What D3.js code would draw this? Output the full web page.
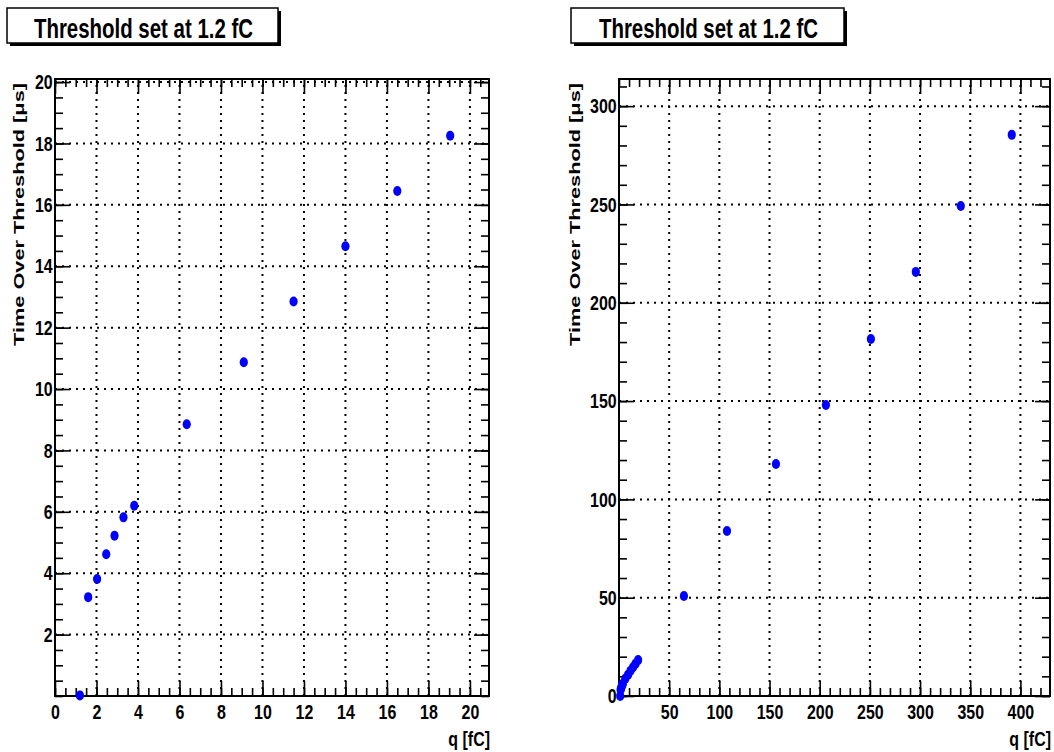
<!DOCTYPE html>
<html>
<head>
<meta charset="utf-8">
<script src="https://cdn.jsdelivr.net/npm/d3@7"></script>
<style>
  body { margin: 0; background: #fff; }
  svg { display: block; }
</style>
</head>
<body>
<svg width="1054" height="752"></svg>
<script>
// low-charge scan (fC, us)
const lowQ = [1.2, 1.6, 2.03, 2.47, 2.87, 3.3, 3.82, 6.35, 9.1, 11.5, 14.0, 16.5, 19.05];
const lowTot = [0.02, 3.22, 3.81, 4.62, 5.22, 5.82, 6.2, 8.85, 10.87, 12.85, 14.65, 16.45, 18.25];
// high-charge scan
const highQ = [64.7, 107.6, 156.4, 206.2, 251, 295.8, 340.6, 391.4];
const highTot = [50.9, 83.9, 118, 148, 181.6, 215.7, 249.2, 285.4];

const titleText = "Threshold set at 1.2 fC";
const xTitle = "q [fC]";
const yTitle = "Time Over Threshold [\u03bcs]";

const leftXTicks = d3.range(0, 21, 2);
const leftYTicks = d3.range(2, 21, 2);
const rightXTicks = d3.range(50, 401, 50);
const rightYTicks = d3.range(0, 301, 50);

const svg = d3.select("svg");
const FONT = "'Liberation Sans', Arial, sans-serif";
const SX = 0.76;

function drawPanel(opt) {
    const g = svg.append("g");
    const x = d3.scaleLinear().domain(opt.xDomain).range([opt.left, opt.right]);
    const y = d3.scaleLinear().domain(opt.yDomain).range([opt.bottom, opt.top]);

    // title box with shadow
    g.append("rect")
        .attr("x", opt.boxX + 3).attr("y", 11)
        .attr("width", opt.boxW).attr("height", 35)
        .attr("fill", "#000");
    g.append("rect")
        .attr("x", opt.boxX).attr("y", 8)
        .attr("width", opt.boxW).attr("height", 35)
        .attr("fill", "#fff").attr("stroke", "#000").attr("stroke-width", 1.5);
    g.append("g")
        .attr("transform", `translate(${opt.boxX + opt.boxW / 2 + 1}, 38) scale(0.73,1)`)
        .append("text")
        .attr("text-anchor", "middle")
        .attr("font-family", FONT).attr("font-weight", "bold").attr("font-size", 28)
        .text(titleText);

    // grid
    const grid = g.append("g")
        .attr("stroke", "#000").attr("stroke-width", 2)
        .attr("stroke-dasharray", "2,5");
    grid.selectAll(".gx")
        .data(opt.xTicks.filter(d => d > opt.xDomain[0]))
        .enter().append("line")
        .attr("x1", d => x(d)).attr("x2", d => x(d))
        .attr("y1", opt.bottom).attr("y2", opt.top);
    grid.selectAll(".gy")
        .data(opt.yTicks.filter(d => d > opt.yDomain[0]))
        .enter().append("line")
        .attr("x1", opt.left).attr("x2", opt.right)
        .attr("y1", d => y(d)).attr("y2", d => y(d));

    // axes: major + minor ticks on all four sides
    const minorX = d3.range(opt.xDomain[0], opt.xDomain[1], opt.xMinor);
    const minorY = d3.range(opt.yDomain[0], opt.yDomain[1], opt.yMinor);

    function axisPair(axisFn, scale, major, minor, transform, labels) {
        const a = g.append("g").attr("transform", transform)
            .call(axisFn(scale).tickValues(minor).tickSize(-8).tickSizeOuter(0).tickFormat(""));
        a.select(".domain").remove();
        const b = g.append("g").attr("transform", transform)
            .call(axisFn(scale).tickValues(major).tickSize(-15).tickSizeOuter(0)
                .tickPadding(axisFn === d3.axisBottom ? 8 : 3)
                .tickFormat(labels ? d3.format("d") : ""));
        b.select(".domain").remove();
        [a, b].forEach(s => s.selectAll("line").attr("stroke", "#000").attr("stroke-width", 1.6));
        b.selectAll("text")
            .attr("font-family", FONT).attr("font-weight", "bold").attr("font-size", 21)
            .attr("fill", "#000")
            .attr("transform", `scale(${SX},1)`);
    }
    axisPair(d3.axisBottom, x, opt.xTicks, minorX, `translate(0,${opt.bottom})`, true);
    axisPair(d3.axisTop, x, opt.xTicks, minorX, `translate(0,${opt.top})`, false);
    axisPair(d3.axisLeft, y, opt.yTicks, minorY, `translate(${opt.left},0)`, true);
    axisPair(d3.axisRight, y, opt.yTicks, minorY, `translate(${opt.right},0)`, false);

    // frame
    g.append("rect")
        .attr("x", opt.left).attr("y", opt.top)
        .attr("width", opt.right - opt.left).attr("height", opt.bottom - opt.top)
        .attr("fill", "none").attr("stroke", "#000").attr("stroke-width", 2);

    // points
    g.selectAll(".pt")
        .data(d3.zip(opt.q, opt.tot))
        .enter().append("ellipse")
        .attr("cx", d => x(d[0])).attr("cy", d => y(d[1]))
        .attr("rx", 4.1).attr("ry", 5)
        .attr("fill", "#0000ff");

    // axis titles
    g.append("g")
        .attr("transform", `translate(${opt.right + 1}, 746) scale(${SX},1)`)
        .append("text")
        .attr("text-anchor", "end")
        .attr("font-family", FONT).attr("font-weight", "bold").attr("font-size", 21)
        .text(xTitle);
    g.append("text")
        .attr("transform", `translate(${opt.yTitleX}, 83) rotate(-90)`)
        .attr("text-anchor", "end")
        .attr("font-family", FONT).attr("font-weight", "bold").attr("font-size", 15.5)
        .attr("textLength", 263).attr("lengthAdjust", "spacingAndGlyphs")
        .text(yTitle);
}

drawPanel({
    left: 55, right: 489, top: 79, bottom: 696,
    xDomain: [0, 20.92], yDomain: [0, 20.1],
    xTicks: leftXTicks, yTicks: leftYTicks,
    xMinor: 0.5, yMinor: 0.5,
    q: lowQ, tot: lowTot,
    boxX: 7, boxW: 271, yTitleX: 24
});

drawPanel({
    left: 619, right: 1050, top: 79, bottom: 696,
    xDomain: [0, 429.5], yDomain: [0, 313.8],
    xTicks: rightXTicks, yTicks: rightYTicks,
    xMinor: 10, yMinor: 10,
    q: lowQ.concat(highQ), tot: lowTot.concat(highTot),
    boxX: 571, boxW: 273, yTitleX: 580
});
</script>
</body>
</html>
